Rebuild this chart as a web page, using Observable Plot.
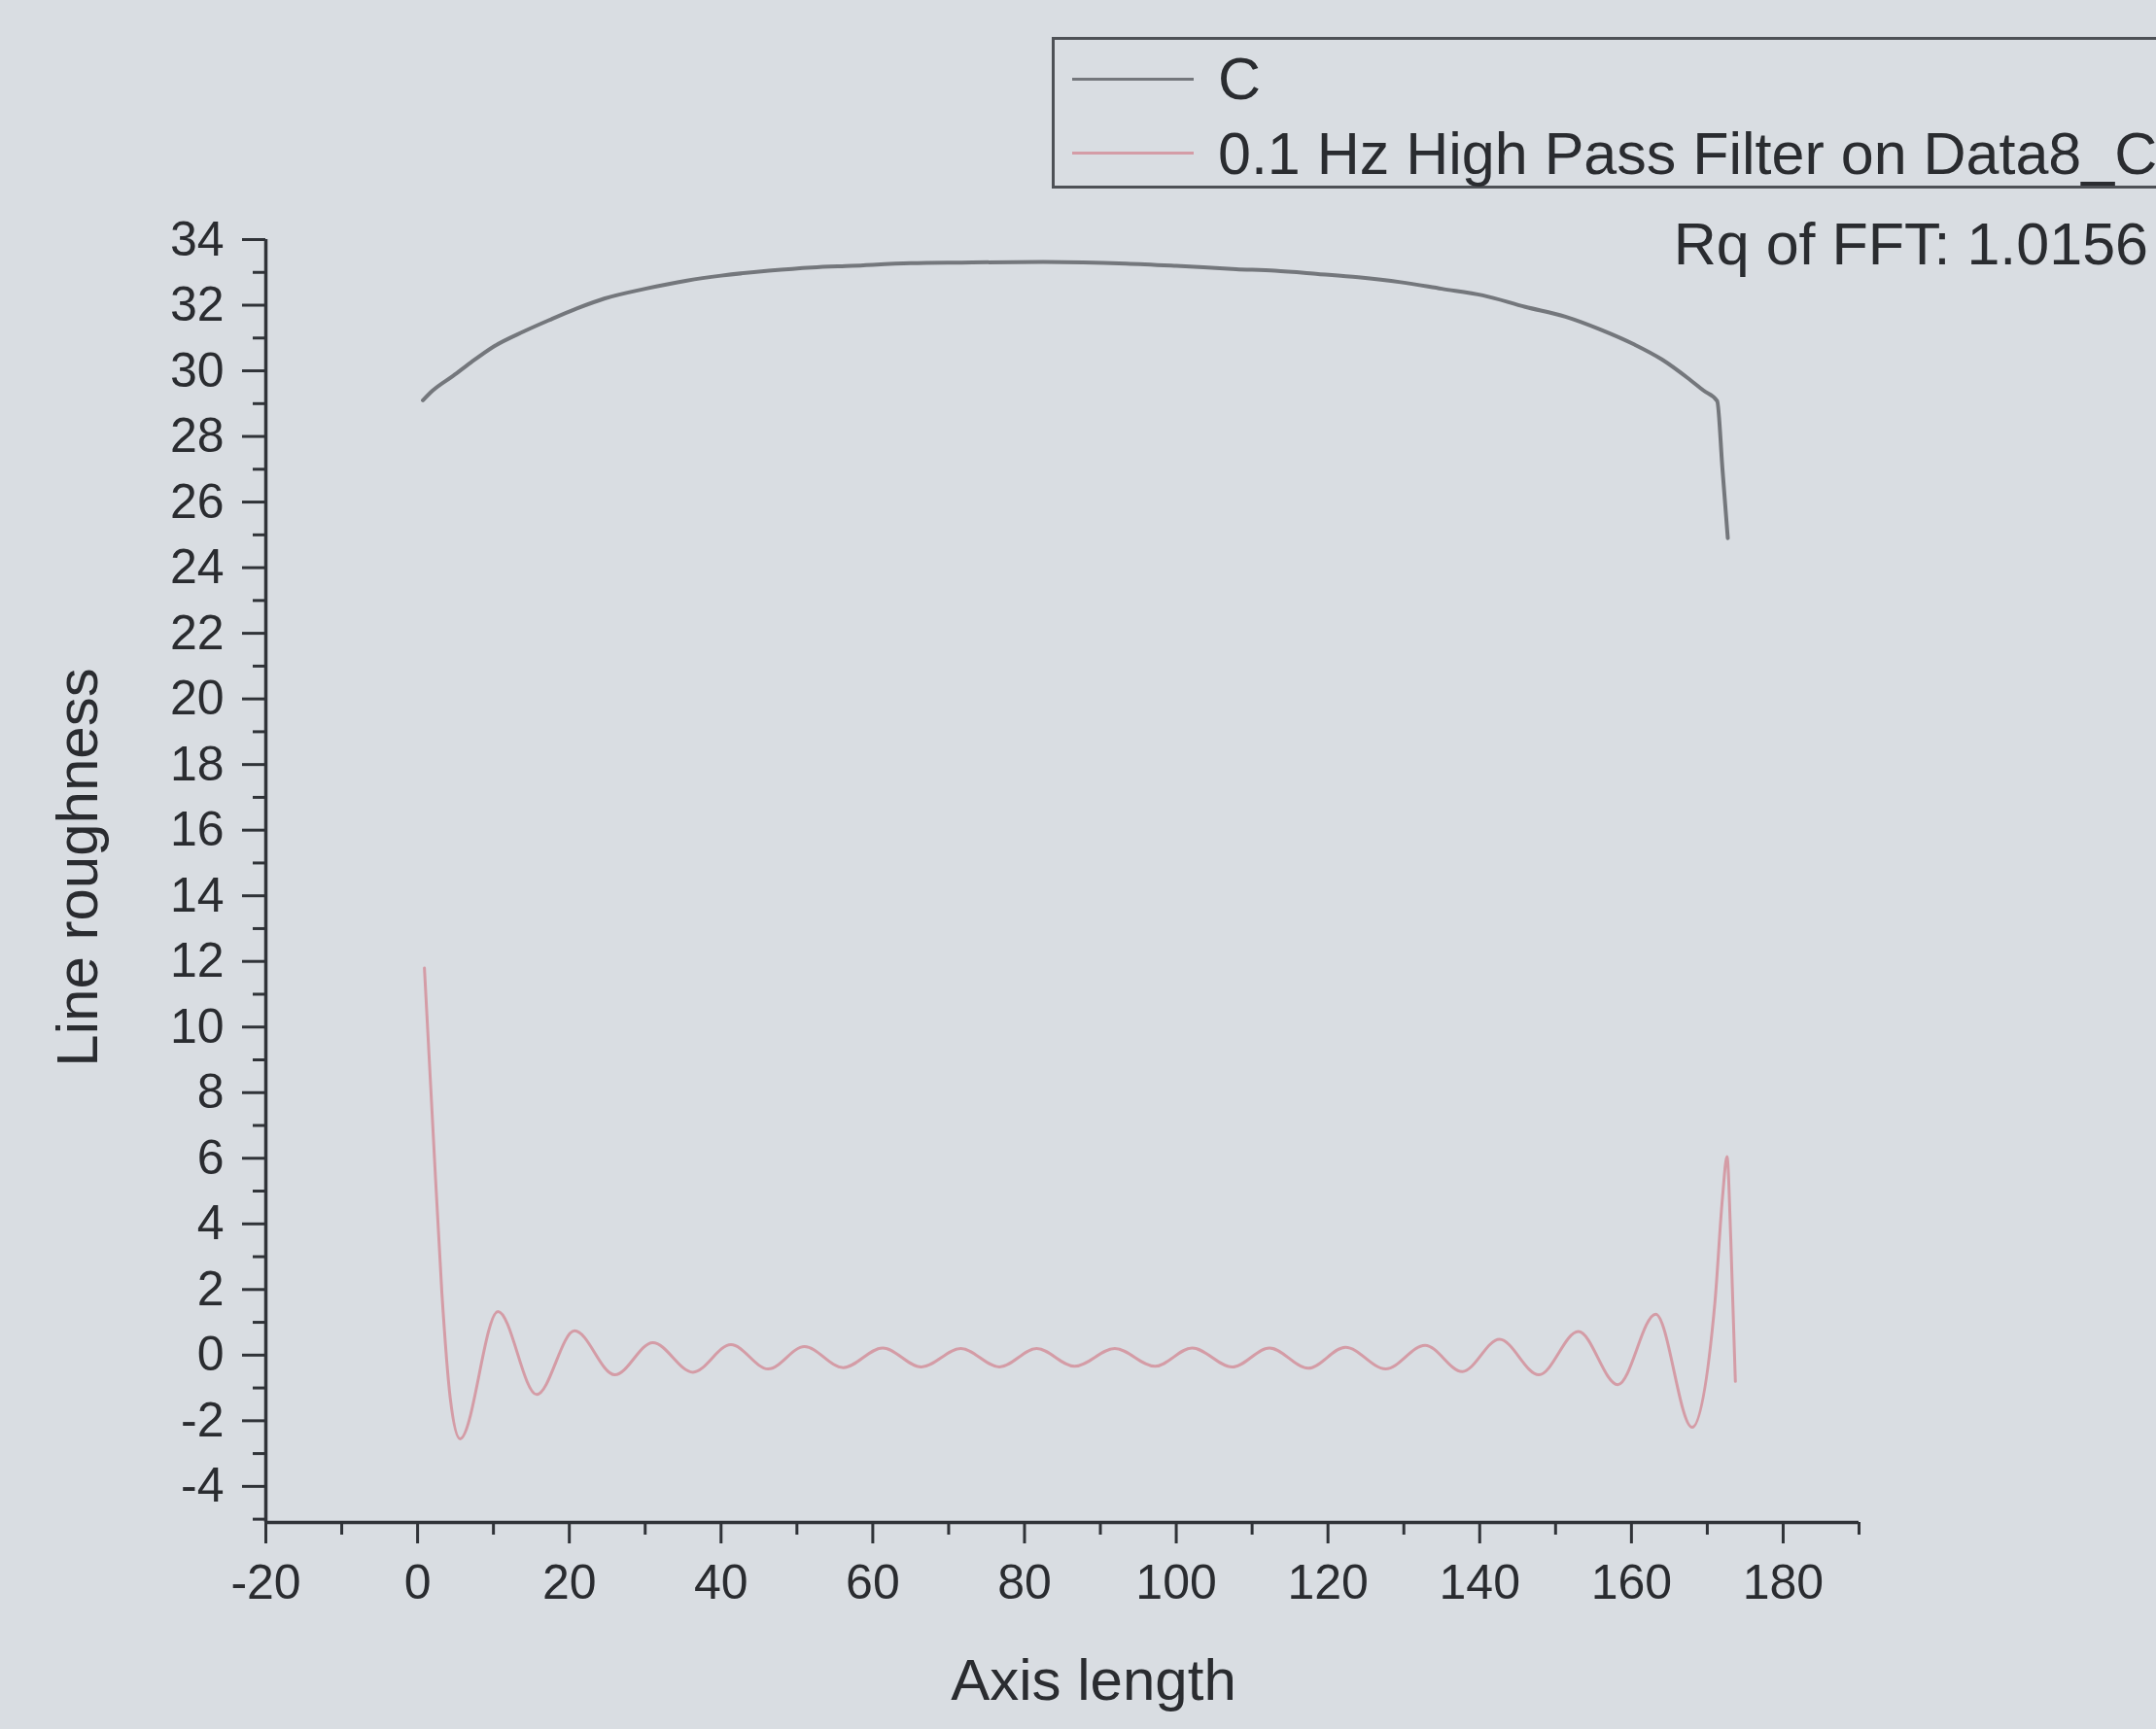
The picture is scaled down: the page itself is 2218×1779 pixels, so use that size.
<!DOCTYPE html>
<html>
<head>
<meta charset="utf-8">
<script src="https://cdn.jsdelivr.net/npm/d3@7"></script>
<script src="https://cdn.jsdelivr.net/npm/@observablehq/plot@0.6"></script>
<style>
  html, body {
    margin: 0;
    padding: 0;
    width: 2218px;
    height: 1779px;
    overflow: hidden;
    background: #d9dde2;
    font-family: "Liberation Sans", Arial, sans-serif;
    color: #2a2c30;
  }
  #chart { position: absolute; left: 0; top: 0; }
  .legend-box {
    position: absolute;
    left: 1082px;
    top: 38px;
    width: 1300px;
    height: 156px;
    box-sizing: border-box;
    border: 3px solid #4e5156;
  }
  .swatch {
    position: absolute;
    left: 1103px;
    width: 125px;
    height: 3px;
  }
  .legend-text, .note {
    position: absolute;
    font-size: 61px;
    line-height: 61px;
    white-space: nowrap;
  }
</style>
</head>
<body>
<div id="chart"></div>
<div class="legend-box"></div>
<div class="swatch" id="sw-c" style="top:80px;"></div>
<div class="swatch" id="sw-hp" style="top:156px;"></div>
<div class="legend-text" id="lg-c" style="left:1253px; top:51px;"></div>
<div class="legend-text" id="lg-hp" style="left:1253px; top:128px;"></div>
<div class="note" id="rq" style="right:8px; top:221px;"></div>
<script>
// Series names and annotation
const seriesNames = ["C", "0.1 Hz High Pass Filter on Data8_C"];
const rqNote = "Rq of FFT: 1.0156";
const xTitle = "Axis length";
const yTitle = "Line roughness";

// Raw profile "C": position along the axis and roughness value
const cX = [0.7, 2, 4.7, 7, 10.1, 14, 17.4, 21, 24.6, 30, 35.5, 40, 46.3, 52, 57.2, 65,
            71.7, 82.5, 93.4, 100, 107.9, 113, 118.7, 124, 129.6, 135, 140.4, 146, 151.3,
            156, 160.4, 164, 167.6, 169.5, 171.3, 172.0, 172.7];
const cY = [29.1, 29.4, 29.85, 30.25, 30.75, 31.2, 31.55, 31.9, 32.2, 32.5, 32.75, 32.9, 33.05,
            33.15, 33.2, 33.28, 33.3, 33.32, 33.27, 33.2, 33.1, 33.05, 32.95, 32.85, 32.7, 32.5,
            32.3, 31.95, 31.65, 31.25, 30.8, 30.35, 29.75, 29.4, 29.08, 27.0, 24.9];

// 0.1 Hz high-pass filtered profile: edge transients and turning points of the ringing
const hpX = [0.9, 2.0, 3.2, 4.3, 5.6, 10.6, 15.7, 20.7, 26.0, 31.0, 36.3, 41.3, 46.2, 51.0,
             56.1, 61.3, 66.4, 71.6, 76.7, 81.6, 86.6, 91.9, 97.2, 102.1, 107.4, 112.3, 117.4,
             122.3, 127.6, 132.8, 137.7, 142.6, 147.8, 153.0, 158.2, 163.2, 168.0, 171.0,
             172.0, 172.6, 173.1, 173.7];
const hpY = [11.8, 7.0, 1.9, -1.3, -2.55, 1.33, -1.2, 0.74, -0.6, 0.38, -0.52, 0.32, -0.42,
             0.26, -0.38, 0.22, -0.36, 0.2, -0.36, 0.2, -0.34, 0.2, -0.34, 0.22, -0.36, 0.22,
             -0.4, 0.24, -0.42, 0.3, -0.5, 0.48, -0.6, 0.72, -0.9, 1.25, -2.2, 1.6, 4.8, 6.05,
             3.5, -0.8];

// Axis ticks
const xMajorTicks = [-20, 0, 20, 40, 60, 80, 100, 120, 140, 160, 180];
const xMinorTicks = [-10, 10, 30, 50, 70, 90, 110, 130, 150, 170, 190];
const yMajorTicks = [-4, -2, 0, 2, 4, 6, 8, 10, 12, 14, 16, 18, 20, 22, 24, 26, 28, 30, 32, 34];
const yMinorTicks = [-5, -3, -1, 1, 3, 5, 7, 9, 11, 13, 15, 17, 19, 21, 23, 25, 27, 29, 31, 33];
const xDomain = [-20, 190];
const yDomain = [-5.1, 34];

const colors = {c: "#74777c", hp: "#d49ca6", axis: "#303338", text: "#2a2c30"};

const cData = cX.map((x, i) => ({x, v: cY[i]}));
const hpData = hpX.map((x, i) => ({x, v: hpY[i]}));
const fmt = d => `${d}`;

const chart = Plot.plot({
  width: 2218,
  height: 1779,
  marginLeft: 273,
  marginRight: 306,
  marginTop: 246,
  marginBottom: 213,
  style: {
    background: "transparent",
    fontFamily: "'Liberation Sans', Arial, sans-serif",
    color: colors.text
  },
  x: {domain: xDomain},
  y: {domain: yDomain},
  marks: [
    Plot.axisX({ticks: xMajorTicks, tickSize: 22, tickPadding: 21, tickFormat: fmt,
                fontSize: 50, stroke: colors.axis, strokeWidth: 3, label: null}),
    Plot.axisX({ticks: xMinorTicks, tickSize: 13, tickFormat: () => "",
                stroke: colors.axis, strokeWidth: 3, label: null}),
    Plot.axisY({ticks: yMajorTicks, tickSize: 24, tickPadding: 19, tickFormat: fmt,
                fontSize: 50, stroke: colors.axis, strokeWidth: 3, label: null}),
    Plot.axisY({ticks: yMinorTicks, tickSize: 13, tickFormat: () => "",
                stroke: colors.axis, strokeWidth: 3, label: null}),
    Plot.ruleX([xDomain[0]], {stroke: colors.axis, strokeWidth: 3.5}),
    Plot.ruleY([yDomain[0]], {stroke: colors.axis, strokeWidth: 3.5}),
    Plot.line(cData, {x: "x", y: "v", stroke: colors.c, strokeWidth: 4, curve: "monotone-x"}),
    Plot.line(hpData, {x: "x", y: "v", stroke: colors.hp, strokeWidth: 3, curve: "monotone-x"}),
    Plot.text([yTitle], {text: d => d, frameAnchor: "left", textAnchor: "middle", lineAnchor: "middle",
                         rotate: -90, dx: -193, dy: -14, fontSize: 60, fill: colors.text}),
    Plot.text([xTitle], {text: d => d, frameAnchor: "bottom", textAnchor: "middle", lineAnchor: "middle",
                         dx: 32, dy: 163, fontSize: 60, fill: colors.text})
  ]
});
document.getElementById("chart").appendChild(chart);

// Legend and annotation
document.getElementById("sw-c").style.background = colors.c;
document.getElementById("sw-hp").style.background = colors.hp;
document.getElementById("lg-c").textContent = seriesNames[0];
document.getElementById("lg-hp").textContent = seriesNames[1];
document.getElementById("rq").textContent = rqNote;
</script>
</body>
</html>
